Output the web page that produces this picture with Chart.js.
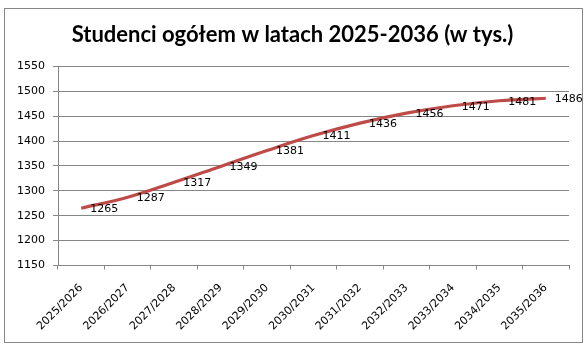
<!DOCTYPE html>
<html>
<head>
<meta charset="utf-8">
<script src="https://cdn.jsdelivr.net/npm/chart.js@4"></script>
<style>
  html, body { margin: 0; padding: 0; background: #fff; }
  #wrap { width: 585px; height: 351px; position: relative; }
</style>
</head>
<body>
<div id="wrap"><canvas id="chart" width="585" height="351"></canvas></div>
<script>
const years = [
  "2025/2026", "2026/2027", "2027/2028", "2028/2029", "2029/2030", "2030/2031",
  "2031/2032", "2032/2033", "2033/2034", "2034/2035", "2035/2036"
];
const students = [1265, 1287, 1317, 1349, 1381, 1411, 1436, 1456, 1471, 1481, 1486];
const yTicks = [1150, 1200, 1250, 1300, 1350, 1400, 1450, 1500, 1550];

const gray = "#868686";

// outer frame like the excel chart area
const framePlugin = {
  id: "frame",
  beforeDraw(chart) {
    const ctx = chart.ctx;
    ctx.save();
    ctx.fillStyle = "#fff";
    ctx.fillRect(0, 0, chart.width, chart.height);
    ctx.strokeStyle = gray;
    ctx.lineWidth = 1;
    ctx.strokeRect(4.5, 8.5, 578, 334);
    ctx.restore();
  }
};

// value labels to the right of each point
const valueLabels = {
  id: "valueLabels",
  afterDatasetsDraw(chart) {
    const ctx = chart.ctx;
    const meta = chart.getDatasetMeta(0);
    ctx.save();
    ctx.font = "11px 'DejaVu Sans'";
    ctx.fillStyle = "#000";
    ctx.textAlign = "left";
    ctx.textBaseline = "middle";
    meta.data.forEach((pt, i) => {
      ctx.fillText(String(students[i]), pt.x + 9, pt.y + 1);
    });
    ctx.restore();
  }
};

new Chart(document.getElementById("chart"), {
  type: "line",
  data: {
    labels: years,
    datasets: [{
      data: students,
      borderColor: "#BE4B48",
      borderWidth: 3.2,
      pointRadius: 0,
      tension: 0.4,
      fill: false
    }]
  },
  options: {
    responsive: false,
    animation: false,
    layout: { padding: { left: 16, right: 16, top: 0, bottom: 6 } },
    plugins: {
      legend: { display: false },
      tooltip: { enabled: false },
      title: {
        display: true,
        text: "Studenci ogółem w latach 2025-2036 (w tys.)",
        color: "#000",
        font: { family: "Lato", size: 22, weight: "bold" },
        padding: { top: 22, bottom: 18 }
      }
    },
    scales: {
      x: {
        offset: true,
        grid: {
          offset: true,
          drawOnChartArea: false,
          color: gray,
          tickLength: 4
        },
        border: { color: gray },
        ticks: {
          color: "#000",
          font: { family: "'DejaVu Sans'", size: 11 },
          minRotation: 45,
          maxRotation: 45,
          padding: 12
        }
      },
      y: {
        min: 1150,
        max: 1550,
        afterFit(scale) { scale.width = 42; },
        afterBuildTicks(scale) { scale.ticks = yTicks.map(v => ({ value: v })); },
        grid: { color: gray, tickLength: 5 },
        border: { color: gray },
        ticks: {
          color: "#000",
          font: { family: "'DejaVu Sans'", size: 11 },
          padding: 8,
          callback: v => String(v)
        }
      }
    }
  },
  plugins: [framePlugin, valueLabels]
});
</script>
</body>
</html>
